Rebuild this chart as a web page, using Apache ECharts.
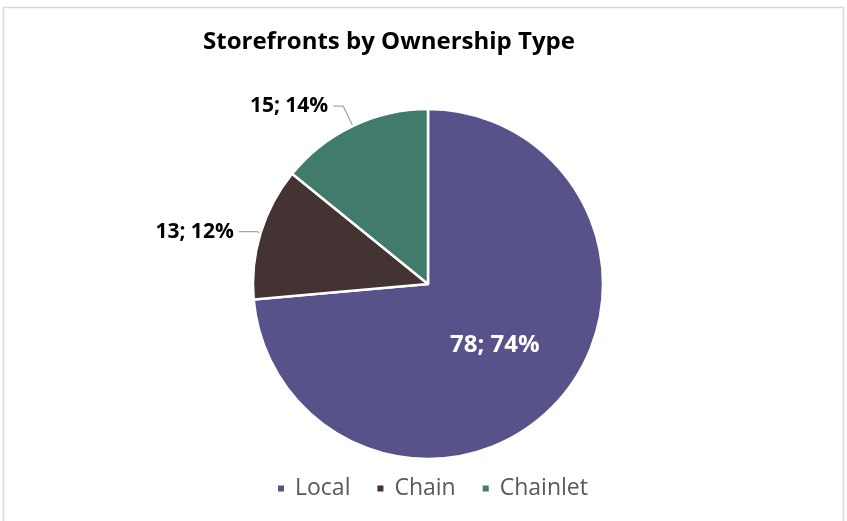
<!DOCTYPE html>
<html>
<head>
<meta charset="utf-8">
<script src="https://cdn.jsdelivr.net/npm/echarts@6/dist/echarts.min.js"></script>
<style>
  html, body { margin: 0; padding: 0; background: #fff; }
  #chart { width: 847px; height: 521px; }
</style>
</head>
<body>
<div id="chart"></div>
<script>
// Storefront counts by ownership type
const categories = ['Local', 'Chain', 'Chainlet'];
const counts = [78, 13, 15];
const colors = ['#58528A', '#433333', '#417B6C'];

const chart = echarts.init(document.getElementById('chart'));

const labelFont = '"Open Sans", Lato, sans-serif';

const pieData = categories.map((name, i) => {
  const item = { name: name, value: counts[i], itemStyle: { color: colors[i] } };
  if (i === 0) {
    item.label = { position: 'inside', color: '#fff', fontSize: 24 };
  } else if (i === 1) {
    item.labelLine = { length: 4, length2: 18 };
  } else {
    item.labelLine = { length: 22, length2: 10 };
  }
  return item;
});

chart.setOption({
  backgroundColor: '#fff',
  animation: false,
  title: {
    text: 'Storefronts by Ownership Type',
    left: 384,
    top: 25,
    textAlign: 'center',
    textStyle: { fontFamily: labelFont, fontWeight: 'bold', fontSize: 24, color: '#000' }
  },
  legend: {
    bottom: 16,
    left: 271,
    icon: 'rect',
    itemWidth: 8,
    itemHeight: 8,
    itemGap: 25,
    data: categories,
    textStyle: { fontFamily: labelFont, fontSize: 23, color: '#595959', padding: [0, 0, 0, 5] }
  },
  graphic: [{
    type: 'rect',
    shape: { x: 3.5, y: 7.5, width: 840, height: 530 },
    style: { fill: 'none', stroke: '#D9D9D9', lineWidth: 1.5 },
    silent: true
  }],
  series: [{
    type: 'pie',
    center: [428, 284],
    radius: [0, 175],
    startAngle: 90,
    clockwise: true,
    percentPrecision: 0,
    avoidLabelOverlap: false,
    itemStyle: { borderColor: '#fff', borderWidth: 2.5 },
    label: {
      show: true,
      formatter: '{c}; {d}%',
      fontFamily: labelFont,
      fontWeight: 'bold',
      fontSize: 21,
      color: '#000'
    },
    labelLine: {
      show: true,
      lineStyle: { color: '#A6A6A6', width: 1.2 }
    },
    data: pieData
  }]
});
</script>
</body>
</html>
